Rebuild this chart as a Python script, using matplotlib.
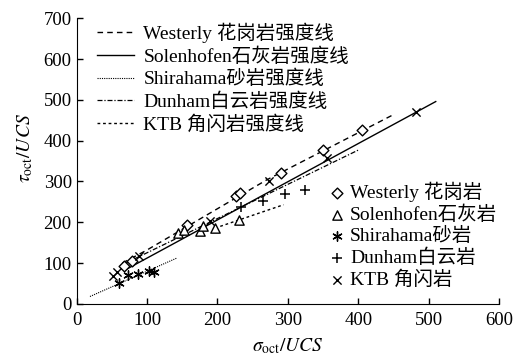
import matplotlib
matplotlib.use('Agg')
import matplotlib.pyplot as plt

plt.rcParams['font.family'] = ['Liberation Serif', 'Noto Sans CJK SC']
plt.rcParams['mathtext.fontset'] = 'stix'

# measured points
west_x = [67, 78, 157, 227, 232, 290, 350, 405]
west_y = [94, 106, 194, 265, 271, 321, 378, 427]
sol_x = [144, 152, 175, 180, 197, 230]
sol_y = [173, 180, 178, 190, 185, 206]
shira_x = [60, 73, 87, 103, 110]
shira_y = [52, 71, 74, 80, 79]
dun_x = [234, 265, 296, 325]
dun_y = [237, 251, 270, 279]
ktb_x = [52, 58, 88, 190, 273, 356, 482]
ktb_y = [69, 79, 118, 203, 300, 357, 471]

# strength lines (end points)
west_lx = [65, 99, 270, 450]
west_ly = [100, 131, 304, 464]
sol_lx = [71, 510]
sol_ly = [85, 496]
shira_lx = [19, 142]
shira_ly = [18, 112]
dun_lx = [70, 400]
dun_ly = [100, 377]
ktb_lx = [204, 294]
ktb_ly = [190, 243]

line_labels = ['Westerly 花岗岩强度线', 'Solenhofen石灰岩强度线', 'Shirahama砂岩强度线',
               'Dunham白云岩强度线', 'KTB 角闪岩强度线']
point_labels = ['Westerly 花岗岩', 'Solenhofen石灰岩', 'Shirahama砂岩', 'Dunham白云岩', 'KTB 角闪岩']

fig = plt.figure(figsize=(5.21, 3.6), dpi=100)
ax = fig.add_axes([0.147, 0.156, 0.811, 0.793])

lines = []
lines += ax.plot(west_lx, west_ly, 'k', lw=1.0, ls=(0, (4, 3)))
lines += ax.plot(sol_lx, sol_ly, 'k', lw=1.0, ls='-')
lines += ax.plot(shira_lx, shira_ly, 'k', lw=0.8, ls=(0, (1, 1)))
lines += ax.plot(dun_lx, dun_ly, 'k', lw=0.9, ls=(0, (4, 1.5, 1, 1.5)))
lines += ax.plot(ktb_lx, ktb_ly, 'k', lw=1.0, ls=(0, (2, 2)))

pts = []
pts.append(ax.scatter(west_x, west_y, marker='D', s=30, facecolors='white', edgecolors='k', lw=1.0, zorder=3))
pts.append(ax.scatter(sol_x, sol_y, marker='^', s=45, facecolors='white', edgecolors='k', lw=1.0, zorder=3))
pts.append(ax.scatter(shira_x, shira_y, marker=(6, 2, 0), s=45, c='k', lw=1.0, zorder=3))
pts.append(ax.scatter(dun_x, dun_y, marker='+', s=60, c='k', lw=1.1, zorder=3))
pts.append(ax.scatter(ktb_x, ktb_y, marker='x', s=35, c='k', lw=1.0, zorder=3))

ax.set_xlim(0, 600)
ax.set_ylim(0, 700)
ax.set_xticks(range(0, 601, 100))
ax.set_yticks(range(0, 701, 100))
ax.spines['top'].set_visible(False)
ax.spines['right'].set_visible(False)
ax.tick_params(direction='in', length=4, labelsize=13.5, width=1)
ax.tick_params(axis='x', pad=6)
ax.set_xlabel(r'$\sigma_{\rm oct}/UCS$', fontsize=14, labelpad=5)
ax.set_ylabel(r'$\tau_{\rm oct}/UCS$', fontsize=14)
ax.yaxis.set_label_coords(-0.099, 0.545)

leg1 = ax.legend(lines, line_labels, loc='upper left', bbox_to_anchor=(0.02, 1.025),
                 frameon=False, fontsize=14, handlelength=1.9, handletextpad=0.5,
                 labelspacing=0.21, borderaxespad=0.2)
ax.add_artist(leg1)
ax.legend(pts, point_labels, loc='center left', bbox_to_anchor=(0.562, 0.24),
          frameon=False, fontsize=14, handlelength=0.6, handletextpad=0.35,
          labelspacing=0.17, scatterpoints=1)

fig.savefig('out.png', dpi=100)
